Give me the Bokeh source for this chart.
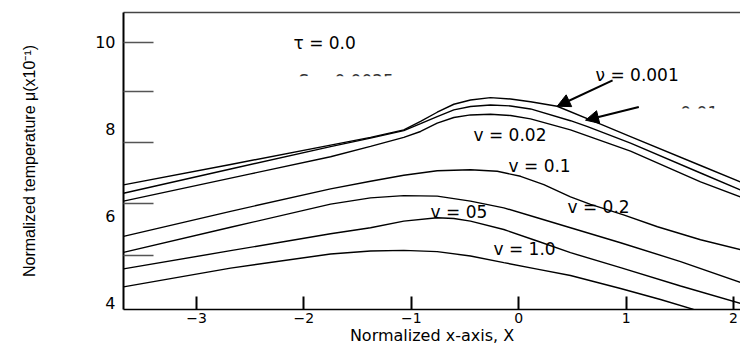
from bokeh.plotting import figure
from bokeh.models import (Range1d, LinearAxis, FixedTicker, Label, Arrow,
                          NormalHead, BoxAnnotation)
from bokeh.embed import file_html
from bokeh.resources import INLINE

# ---------------- data ----------------
x_ticks = [-3, -2, -1, 0, 1, 2]
y_tick_labels = [4, 6, 8, 10]
y_inner_ticks = [5.09, 6.27, 7.68, 8.865, 9.995]

x_v0001 = [-3.680, -2.683, -1.752, -1.380, -1.070, -0.914, -0.759, -0.604, -0.449, -0.263,
           -0.076, 0.110, 0.358, 0.762, 1.041, 1.693, 2.065]
y_v0001 = [6.709, 7.179, 7.626, 7.803, 7.977, 8.170, 8.383, 8.567, 8.665, 8.720,
           8.688, 8.624, 8.521, 8.108, 7.823, 7.156, 6.778]

x_v001 = [-3.680, -2.683, -1.752, -1.380, -1.070, -0.914, -0.759, -0.604, -0.449, -0.263,
          -0.076, 0.110, 0.482, 0.641, 1.041, 1.693, 2.065]
y_v001 = [6.518, 7.076, 7.592, 7.787, 7.959, 8.119, 8.284, 8.436, 8.514, 8.550,
          8.528, 8.459, 8.188, 8.050, 7.672, 6.984, 6.594]

x_v002 = [-3.680, -2.497, -1.752, -1.380, -1.070, -0.914, -0.759, -0.604, -0.449, -0.263,
          -0.076, 0.110, 0.482, 1.041, 1.693, 2.065]
y_v002 = [6.335, 6.963, 7.358, 7.596, 7.803, 7.940, 8.131, 8.261, 8.321, 8.337,
          8.307, 8.229, 7.977, 7.489, 6.778, 6.433]

x_v01 = [-3.680, -2.683, -1.752, -1.380, -1.070, -0.759, -0.449, -0.200, 0.017, 0.234,
         0.482, 0.669, 0.976, 1.292, 1.693, 2.065]
y_v01 = [5.523, 6.101, 6.617, 6.794, 6.931, 7.037, 7.060, 7.023, 6.908, 6.716,
         6.434, 6.261, 6.021, 5.745, 5.447, 5.218]

x_v02 = [-3.680, -2.683, -1.752, -1.380, -1.070, -0.759, -0.449, -0.139, 0.172, 0.482,
         0.948, 1.507, 2.065]
y_v02 = [5.156, 5.734, 6.266, 6.411, 6.463, 6.450, 6.335, 6.181, 5.952, 5.722,
         5.378, 4.943, 4.461]

x_v05 = [-3.680, -2.683, -1.752, -1.380, -1.070, -0.759, -0.604, -0.449, -0.139, 0.172,
         0.482, 0.948, 1.507, 2.065]
y_v05 = [4.775, 5.195, 5.585, 5.722, 5.876, 5.952, 5.936, 5.876, 5.683, 5.417,
         5.149, 4.805, 4.381, 3.979]

x_v10 = [-3.680, -2.683, -1.752, -1.380, -1.070, -0.759, -0.449, -0.139, 0.172, 0.482,
         0.948, 1.320, 1.628, 2.065]
y_v10 = [4.362, 4.794, 5.119, 5.188, 5.202, 5.172, 5.073, 4.920, 4.771, 4.622,
         4.323, 4.071, 3.842, 3.567]

curves = [(x_v0001, y_v0001), (x_v001, y_v001), (x_v002, y_v002), (x_v01, y_v01),
          (x_v02, y_v02), (x_v05, y_v05), (x_v10, y_v10)]

# annotation texts
label_texts = ["τ = 0.0", "ν = 0.001", "v = 0.02", "v = 0.1", "v = 0.2", "v = 05", "v = 1.0"]
label_x = [-2.097, 0.715, -0.421, -0.095, 0.454, -0.821, -0.235]
label_y = [9.989, 9.232, 7.856, 7.144, 6.211, 6.096, 5.234]

# partly hidden texts (only the tops of their glyphs show in the picture)
hidden_texts = ["S = 0.0025", "v = 0.01"]
hidden_x = [-2.050, 1.178]
hidden_y = [9.112, 8.367]

# ---------------- figure ----------------
FONT = "DejaVu Sans"
p = figure(width=740, height=347, output_backend="svg", toolbar_location=None,
           x_range=Range1d(-3.68, 2.065), y_range=Range1d(3.84, 10.68),
           min_border_left=123, min_border_right=0, min_border_top=12,
           min_border_bottom=37)
p.outline_line_color = None
p.xgrid.visible = False
p.ygrid.visible = False
p.background_fill_color = "white"
p.border_fill_color = "white"

xa = p.xaxis[0]
xa.ticker = FixedTicker(ticks=x_ticks)
xa.major_tick_in = 13
xa.major_tick_out = 0
xa.major_tick_line_width = 2
xa.major_tick_line_color = "black"
xa.minor_tick_line_color = None
xa.axis_line_color = "black"
xa.axis_line_width = 1.5
xa.major_label_text_font = FONT
xa.major_label_text_font_size = "14px"
xa.major_label_text_color = "black"
xa.major_label_standoff = 3
xa.axis_label = "Normalized x-axis, X"
xa.axis_label_text_font = FONT
xa.axis_label_text_font_style = "normal"
xa.axis_label_text_font_size = "16px"
xa.axis_label_text_color = "black"
xa.axis_label_standoff = 0

ya = p.yaxis[0]
ya.ticker = FixedTicker(ticks=y_tick_labels, minor_ticks=y_inner_ticks)
ya.major_tick_line_color = None
ya.major_tick_out = 0
ya.major_tick_in = 0
ya.minor_tick_in = 30
ya.minor_tick_out = 0
ya.minor_tick_line_color = "#555555"
ya.minor_tick_line_width = 1.5
ya.axis_line_color = "black"
ya.axis_line_width = 2
ya.major_label_text_font = FONT
ya.major_label_text_font_size = "16px"
ya.major_label_text_color = "black"
ya.major_label_standoff = 8
ya.axis_label = "Normalized temperature μ(x10⁻¹)"
ya.axis_label_text_font = "Liberation Sans"
ya.axis_label_text_font_style = "normal"
ya.axis_label_text_font_size = "16px"
ya.axis_label_text_color = "black"
ya.axis_label_standoff = 54

top = LinearAxis(ticker=FixedTicker(ticks=[]), major_label_text_font_size="0px",
                 major_tick_line_color=None, minor_tick_line_color=None,
                 major_label_standoff=0, axis_line_color="#444444", axis_line_width=1.5)
p.add_layout(top, "above")

for xs, ys in curves:
    p.line(xs, ys, line_color="black", line_width=1.4)

for t, lx, ly in zip(label_texts, label_x, label_y):
    p.add_layout(Label(x=lx, y=ly, text=t, text_font=FONT, text_font_size="17px",
                       text_color="black", text_baseline="middle", text_align="left"))

for t, lx, ly in zip(hidden_texts, hidden_x, hidden_y):
    p.add_layout(Label(x=lx, y=ly, text=t, text_font=FONT, text_font_size="17px",
                       text_color="#333333", text_baseline="middle", text_align="left"))
# white patches that cover all but the tops of those texts
p.add_layout(BoxAnnotation(left=-2.125, right=-0.728, top=9.213, bottom=8.773,
                           fill_color="white", fill_alpha=1.0, line_color=None))
p.add_layout(BoxAnnotation(left=1.139, right=2.065, top=8.468, bottom=8.085,
                           fill_color="white", fill_alpha=1.0, line_color=None))

# arrows
for xs0, ys0, xe, ye in [(0.874, 9.117, 0.358, 8.521), (1.118, 8.505, 0.622, 8.200)]:
    p.add_layout(Arrow(x_start=xs0, y_start=ys0, x_end=xe, y_end=ye, line_width=2,
                       line_color="black",
                       end=NormalHead(size=13, fill_color="black", line_color="black")))

open("out.html", "w").write(file_html(p, INLINE))
